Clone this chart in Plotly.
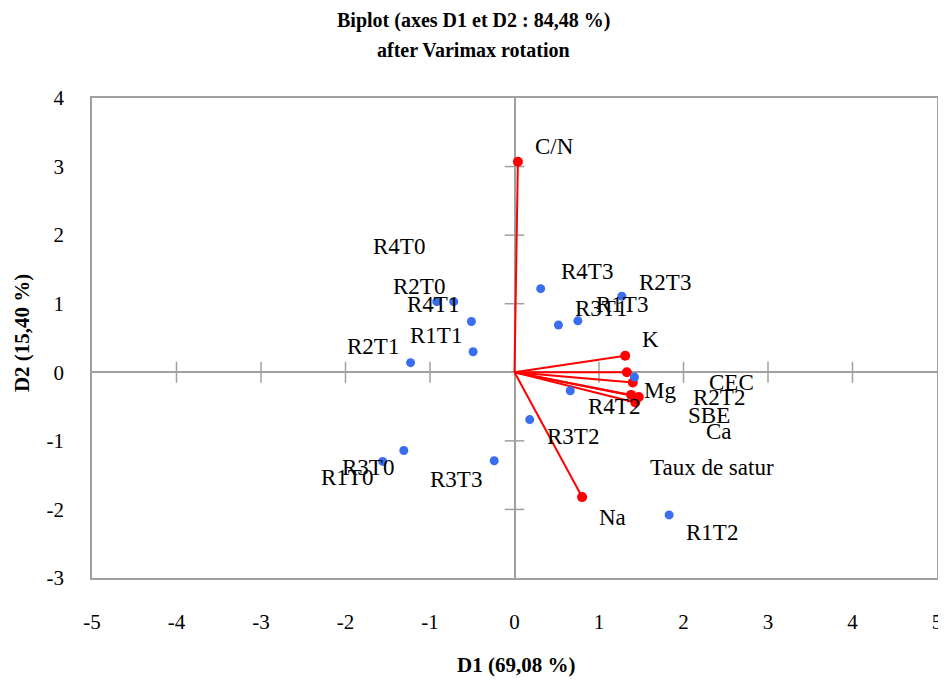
import plotly.graph_objects as go

# ---------------- data ----------------
obs_names = ["R4T3", "R2T3", "R1T3", "R3T1", "R2T2", "R4T2", "R3T2", "R1T2",
             "R4T0", "R2T0", "R4T1", "R1T1", "R2T1", "R3T0", "R1T0", "R3T3"]
obs_d1 = [0.31, 1.27, 0.75, 0.52, 1.42, 0.66, 0.18, 1.83,
          -0.92, -0.72, -0.51, -0.49, -1.23, -1.31, -1.56, -0.24]
obs_d2 = [1.22, 1.11, 0.75, 0.69, -0.07, -0.27, -0.69, -2.08,
          1.03, 1.03, 0.74, 0.30, 0.14, -1.14, -1.30, -1.29]

var_names = ["C/N", "K", "CEC", "Mg", "SBE", "Ca", "Taux de satur", "Na"]
var_d1 = [0.04, 1.31, 1.33, 1.40, 1.38, 1.47, 1.43, 0.80]
var_d2 = [3.07, 0.24, 0.00, -0.15, -0.33, -0.36, -0.44, -1.82]

x_tick_vals = [-5, -4, -3, -2, -1, 0, 1, 2, 3, 4, 5]
x_tick_text = ["-5", "-4", "-3", "-2", "-1", "0", "1", "2", "3", "4", "5"]
y_tick_vals = [-3, -2, -1, 0, 1, 2, 3, 4]
y_tick_text = ["-3", "-2", "-1", "0", "1", "2", "3", "4"]

title_line1 = "Biplot (axes D1 et D2 : 84,48 %)"
title_line2 = "after Varimax rotation"
x_title = "D1 (69,08 %)"
y_title = "D2 (15,40 %)"

# label placement offsets in pixels (layout only)
obs_shift_x = [46, 43, 44, 43, 85, 44, 43, 43, -38, -35, -38, -37, -38, -36, -36, -38]
obs_shift_y = [17, 14, 16, 16, -20, -16, -17, -18, 55, 15, 17, 16, 16, -17, -16, -19]
var_shift_x = [37, 25, 105, 27, 78, 80, 77, 30]
var_shift_y = [15, 16, -10, -8, -21, -35, -65, -20]

# ---------------- styles ----------------
AXIS = "#A0A0A0"
BLUE = "#3A6EF0"
RED = "#FF0000"
SERIF = "Liberation Serif, Times New Roman, serif"

fig = go.Figure()

# tick marks crossing the zero axes
xt_inner = [v for v in x_tick_vals if v not in (x_tick_vals[0], x_tick_vals[-1], 0)]
yt_inner = [v for v in y_tick_vals if v not in (y_tick_vals[0], y_tick_vals[-1], 0)]
fig.add_trace(go.Scatter(x=xt_inner, y=[0] * len(xt_inner), mode="markers",
                         marker=dict(symbol="line-ns", size=15, line=dict(color=AXIS, width=1.5)),
                         hoverinfo="skip"))
fig.add_trace(go.Scatter(x=[0] * len(yt_inner), y=yt_inner, mode="markers",
                         marker=dict(symbol="line-ew", size=14, line=dict(color=AXIS, width=1.5)),
                         hoverinfo="skip"))

# variable vectors
vx, vy = [], []
for a, b in zip(var_d1, var_d2):
    vx += [0, a, None]
    vy += [0, b, None]
fig.add_trace(go.Scatter(x=vx, y=vy, mode="lines", line=dict(color=RED, width=2),
                         hoverinfo="skip"))
fig.add_trace(go.Scatter(x=var_d1, y=var_d2, mode="markers", text=var_names,
                         marker=dict(color=RED, size=10)))

# observations
fig.add_trace(go.Scatter(x=obs_d1, y=obs_d2, mode="markers", text=obs_names,
                         marker=dict(color=BLUE, size=9)))

annotations = []
for n, x, y, sx, sy in zip(obs_names, obs_d1, obs_d2, obs_shift_x, obs_shift_y):
    annotations.append(dict(x=x, y=y, text=n, showarrow=False, xshift=sx, yshift=sy,
                            font=dict(family=SERIF, size=23, color="black")))
for n, x, y, sx, sy in zip(var_names, var_d1, var_d2, var_shift_x, var_shift_y):
    annotations.append(dict(x=x, y=y, text=n, showarrow=False, xshift=sx, yshift=sy,
                            font=dict(family=SERIF, size=23, color="black")))

# titles
annotations.append(dict(xref="paper", yref="paper", x=0.451, y=1.1605, text="<b>" + title_line1 + "</b>",
                        showarrow=False, xanchor="center", yanchor="middle",
                        font=dict(family=SERIF, size=20, color="black")))
annotations.append(dict(xref="paper", yref="paper", x=0.451, y=1.10, text="<b>" + title_line2 + "</b>",
                        showarrow=False, xanchor="center", yanchor="middle",
                        font=dict(family=SERIF, size=20, color="black")))
annotations.append(dict(xref="paper", yref="paper", x=0.502, y=-0.181, text="<b>" + x_title + "</b>",
                        showarrow=False, xanchor="center", yanchor="middle",
                        font=dict(family=SERIF, size=21, color="black")))
annotations.append(dict(xref="paper", yref="paper", x=-0.083, y=0.51, text="<b>" + y_title + "</b>",
                        showarrow=False, xanchor="center", yanchor="middle", textangle=-90,
                        font=dict(family=SERIF, size=21, color="black")))

axis_common = dict(showgrid=False, zeroline=True, zerolinecolor=AXIS, zerolinewidth=1.5,
                   showline=True, mirror=True, linecolor=AXIS, linewidth=1.5, ticks="",
                   automargin=False, ticklabeloverflow="allow",
                   tickfont=dict(family=SERIF, size=21, color="black"), fixedrange=True)

# the page body adds an 8 px offset, so the figure is sized to fit inside it
fig.update_layout(
    width=938, height=674,
    margin=dict(l=84, r=9, t=90, b=104),
    paper_bgcolor="white", plot_bgcolor="white",
    showlegend=False,
    xaxis=dict(range=[-5, 5], tickvals=x_tick_vals, ticktext=x_tick_text,
               ticklabelstandoff=24, **axis_common),
    yaxis=dict(range=[-3, 4], tickvals=y_tick_vals, ticktext=y_tick_text,
               ticklabelstandoff=22, **axis_common),
    annotations=annotations,
)

fig.write_html("out.html")
